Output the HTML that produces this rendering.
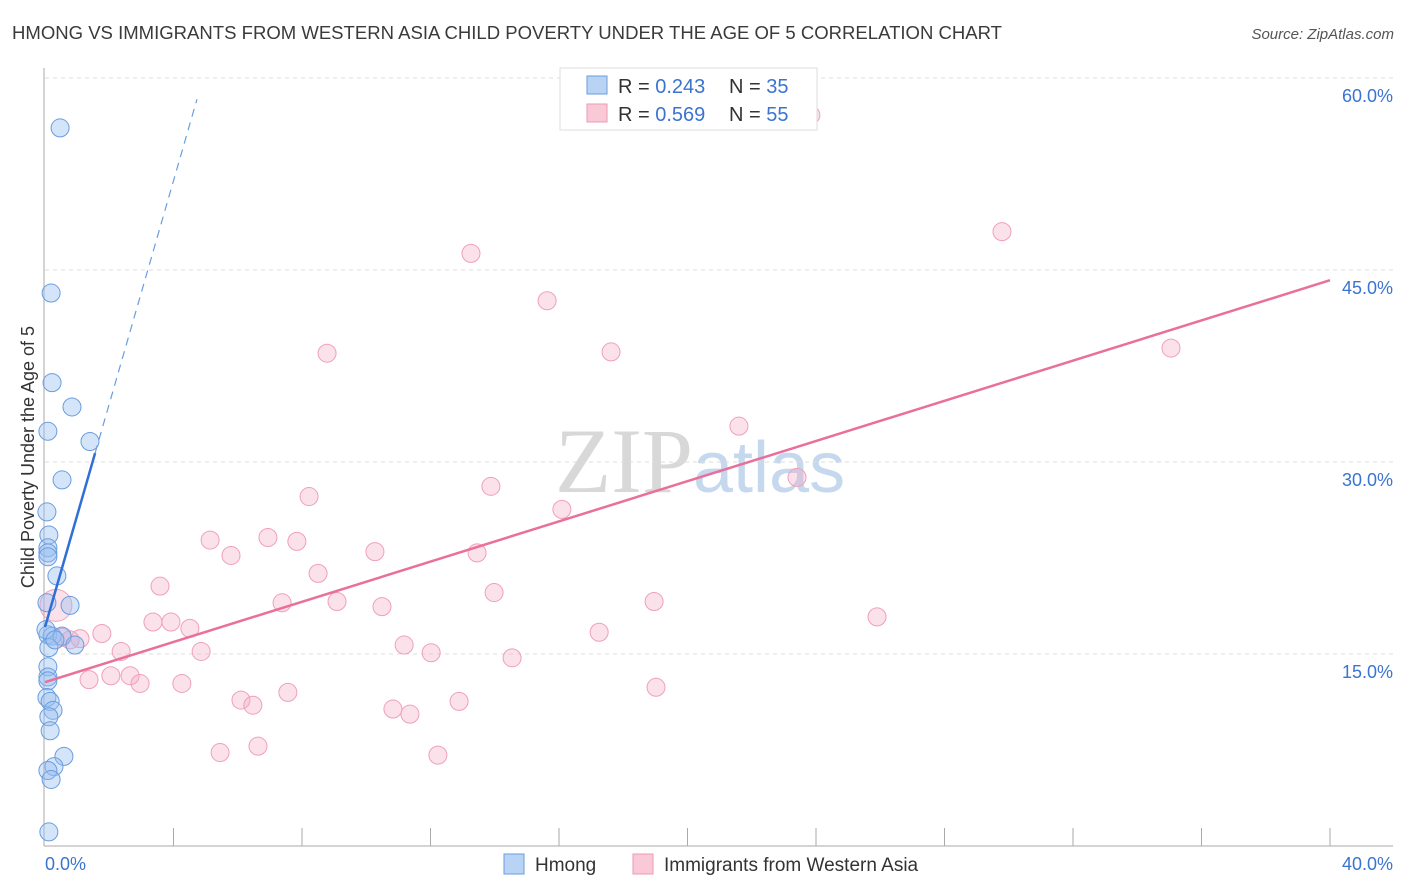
<!DOCTYPE html>
<html><head><meta charset="utf-8"><style>
body{margin:0;background:#fff;font-family:"Liberation Sans",sans-serif}
#c{position:absolute;left:0;top:0}
</style></head><body>
<svg id="c" width="1406" height="892">
<text x="12" y="39" font-size="18" fill="#3a3a3a" textLength="990" lengthAdjust="spacingAndGlyphs">HMONG VS IMMIGRANTS FROM WESTERN ASIA CHILD POVERTY UNDER THE AGE OF 5 CORRELATION CHART</text>
<text x="1394" y="39" font-size="15" fill="#555" text-anchor="end" font-style="italic">Source: ZipAtlas.com</text>
<text x="555" y="492" font-size="92" fill="#d8d8d8" font-family="Liberation Serif,serif">ZIP<tspan fill="#c5d8ee" font-family="Liberation Sans,sans-serif" font-size="72">atlas</tspan></text>
<g id="grid"></g><g id="axes"></g><g id="pts"></g><g id="lines"></g>
<text transform="translate(34,457) rotate(-90)" font-size="18" fill="#333" text-anchor="middle">Child Poverty Under the Age of 5</text>
<g>
<rect x="560" y="68" width="257" height="62" fill="#fff" stroke="#ddd"/>
<rect x="587" y="76" width="20" height="18" fill="#b9d3f5" stroke="#6a9de0"/>
<text x="618" y="93" font-size="20" fill="#333">R = <tspan fill="#3a74d0">0.243</tspan></text>
<text x="729" y="93" font-size="20" fill="#333">N = <tspan fill="#3a74d0">35</tspan></text>
<rect x="587" y="104" width="20" height="18" fill="#f9c9d8" stroke="#ef9ab5"/>
<text x="618" y="121" font-size="20" fill="#333">R = <tspan fill="#3a74d0">0.569</tspan></text>
<text x="729" y="121" font-size="20" fill="#333">N = <tspan fill="#3a74d0">55</tspan></text>
</g>
<g>
<rect x="504" y="854" width="20" height="20" fill="#b9d3f5" stroke="#6a9de0"/>
<text x="535" y="871" font-size="19" fill="#333">Hmong</text>
<rect x="633" y="854" width="20" height="20" fill="#f9c9d8" stroke="#ef9ab5"/>
<text x="664" y="871" font-size="19" fill="#333">Immigrants from Western Asia</text>
</g>
</svg>
<script>
const yTicks=[15,30,45,60];
const xTickLabels=["0.0%","40.0%"];
const hmongX=[0.47,0.19,0.22,0.84,0.09,1.40,0.53,0.06,0.12,0.09,0.09,0.37,0.78,0.06,0.09,0.22,0.53,0.93,0.12,0.09,0.09,0.09,0.06,0.16,0.25,0.12,0.16,0.59,0.28,0.09,0.19,0.12,0.09,0.03,0.31];
const hmongY=[56.1,43.2,36.2,34.3,32.4,31.6,28.6,26.1,24.3,23.3,22.9,21.1,18.8,19.0,16.5,16.4,16.4,15.7,15.5,14.0,13.2,12.9,11.6,11.3,10.6,10.1,9.0,7.0,6.2,5.9,5.2,1.1,22.6,16.9,16.1];
const immPx=[811,1002,471,547,327,611,1171,739,797,491,309,562,210,268,297,231,375,477,318,160,494,654,337,282,382,153,171,190,877,102,599,80,62,404,121,201,431,512,130,111,89,140,182,656,288,241,253,459,393,410,258,220,438,56,70];
const immPy=[115,232,254,301,353,352,348,426,477,486,496,509,540,538,542,555,552,553,573,586,593,601,601,603,607,622,622,629,617,633,632,639,637,645,652,652,653,658,676,676,679,683,683,687,693,700,705,702,709,714,746,752,755,605,640];
const immX=immPx.map(p=>+((p-45)*40/1285).toFixed(2));
const immY=immPy.map(p=>+((846-p)*15/192).toFixed(1));
const immTrend=[12.8,44.2];
const hmongTrend=[17.1,30.7,1.56,4.73];
const X=v=>45+v/40*1285, Y=v=>846-v/15*192;
const NS="http://www.w3.org/2000/svg";
function mk(tag,attrs,parent){const e=document.createElementNS(NS,tag);for(const k in attrs)e.setAttribute(k,attrs[k]);document.getElementById(parent).appendChild(e);return e;}
yTicks.forEach(t=>{
 const l=mk('line',{x1:45,x2:1393,y1:Y(t),y2:Y(t),stroke:'#ddd','stroke-dasharray':'4,4'},'grid');
 
 
 const tx=mk('text',{x:1393,y:Y(t)+24,'font-size':18,fill:'#3a74d0','text-anchor':'end'},'grid');
 tx.textContent=t.toFixed(1)+'%';
 
 
});
mk('line',{x1:44,x2:44,y1:68,y2:846,stroke:'#aaa'},'axes');
mk('line',{x1:44,x2:1393,y1:846,y2:846,stroke:'#aaa'},'axes');
for(let k=1;k<=10;k++){mk('line',{x1:45+128.5*k,x2:45+128.5*k,y1:828,y2:846,stroke:'#aaa'},'axes');}
const xl0=mk('text',{x:45,y:870,'font-size':18,fill:'#3a74d0'},'axes');xl0.textContent=xTickLabels[0];


const xl1=mk('text',{x:1393,y:870,'font-size':18,fill:'#3a74d0','text-anchor':'end'},'axes');xl1.textContent=xTickLabels[1];


immX.forEach((x,i)=>{
 const c=mk('circle',{cx:X(x),cy:Y(immY[i]),r:i==53?16:9,fill:'rgba(244,170,196,0.35)',stroke:'#f0a0ba','stroke-width':1},'pts');
 
 
});
hmongX.forEach((x,i)=>{
 const c=mk('circle',{cx:X(x),cy:Y(hmongY[i]),r:9,fill:'rgba(150,190,240,0.4)',stroke:'#6a9de0','stroke-width':1},'pts');
 
 
});
const pl=mk('line',{x1:X(0),y1:Y(immTrend[0]),x2:X(40),y2:Y(immTrend[1]),stroke:'#e8709a','stroke-width':2.5},'lines');


const slope=(hmongTrend[1]-hmongTrend[0])/hmongTrend[2];
const bl=mk('line',{x1:X(0),y1:Y(hmongTrend[0]),x2:X(hmongTrend[2]),y2:Y(hmongTrend[1]),stroke:'#2f6fd6','stroke-width':2.5},'lines');


const bd=mk('line',{x1:X(hmongTrend[2]),y1:Y(hmongTrend[1]),x2:X(hmongTrend[3]),y2:Y(hmongTrend[0]+slope*hmongTrend[3]),stroke:'#6a9de0','stroke-width':1.2,'stroke-dasharray':'8,6'},'lines');


</script>
</body></html>
